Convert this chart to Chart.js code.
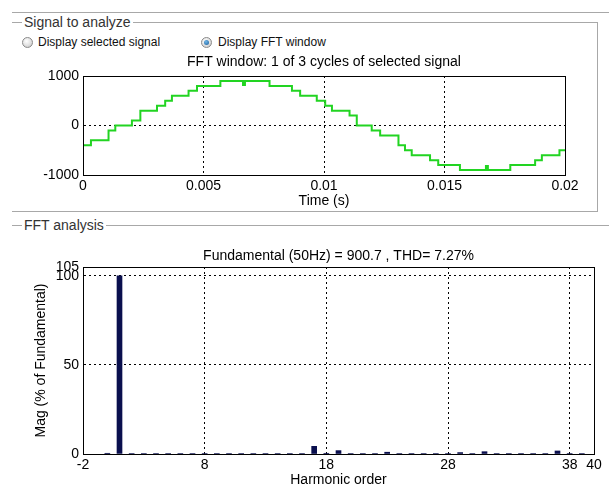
<!DOCTYPE html>
<html>
<head>
<meta charset="utf-8">
<script src="https://cdn.jsdelivr.net/npm/chart.js@4"></script>
<style>
  html, body { margin: 0; padding: 0; background: #fff; }
  body { width: 609px; height: 486px; position: relative; overflow: hidden;
         font-family: "Liberation Sans", Arial, sans-serif; color: #222; }
  .hline { position: absolute; height: 0; border-top: 1px solid #a8a8a8; }
  .panel { position: absolute; border: 1px solid #a8a8a8; border-left: none; }
  .legend { position: absolute; background: #fff; padding: 0 2px; font-size: 14px; line-height: 16px; color: #333; }
  .radio { position: absolute; font-size: 12px; line-height: 14px; color: #111; }
  .dot { position: absolute; width: 9px; height: 9px; border-radius: 50%; border: 1px solid #8a8a8a;
         background: radial-gradient(circle at 40% 35%, #fff 0%, #ddd 60%, #bbb 100%); }
  .dot.on::after { content: ""; position: absolute; left: 2px; top: 2px; width: 5px; height: 5px; border-radius: 50%;
         background: radial-gradient(circle at 40% 35%, #6fb6e8 0%, #1a5d9a 100%); }
  canvas { position: absolute; left: 0; }
</style>
</head>
<body>
<div class="hline" style="left:12px; top:12px; width:597px;"></div>
<div class="panel" style="left:12px; top:22px; width:585px; height:188px;"></div>
<div class="legend" style="left:22px; top:14px;">Signal to analyze</div>
<div class="dot" style="left:22px; top:37px;"></div>
<div class="radio" style="left:38px; top:35px;">Display selected signal</div>
<div class="dot on" style="left:201px; top:37px;"></div>
<div class="radio" style="left:218px; top:35px;">Display FFT window</div>
<div class="hline" style="left:12px; top:225px; width:597px;"></div>
<div class="legend" style="left:22px; top:217px;">FFT analysis</div>

<div style="position:absolute; left:0; top:50px; width:609px; height:162px;">
  <canvas id="waveChart"></canvas>
</div>
<div style="position:absolute; left:0; top:236px; width:609px; height:254px;">
  <canvas id="fftChart"></canvas>
</div>

<script>
/* FFT window signal (one cycle), step changes: time (s) -> level */
const stepTimes  = [0, 0, 0.00033, 0.00106, 0.00134, 0.00203, 0.00238, 0.00307, 0.00341, 0.00369, 0.00438, 0.00473,
                    0.0057, 0.00664, 0.00672, 0.00774, 0.00867, 0.00901, 0.0097, 0.01005, 0.01033, 0.01106, 0.01136,
                    0.01198, 0.01233, 0.01309, 0.01336, 0.01364, 0.0144, 0.01474, 0.01564, 0.01672, 0.0168,
                    0.01773, 0.01876, 0.01904, 0.01977, 0.02];
const stepValues = [0, -400, -300, -100, 0, 100, 300, 400, 500, 600, 700, 800,
                    900, 820, 900, 800, 700, 600, 500, 400, 300, 200, 0,
                    -100, -200, -400, -500, -600, -700, -800, -900, -820, -900,
                    -800, -700, -600, -500, -500];
const timeTicks = [0, 0.005, 0.01, 0.015, 0.02];
const ampTicks  = [-1000, 0, 1000];

/* FFT result: harmonic order -> magnitude (% of fundamental) */
const harmonicOrders = [0, 1, 2, 3, 4, 5, 6, 7, 8, 9, 10, 11, 12, 13, 14, 15, 16, 17, 18, 19,
                        20, 21, 22, 23, 24, 25, 26, 27, 28, 29, 30, 31, 32, 33, 34, 35, 36, 37, 38, 39];
const harmonicMag    = [0.4, 100, 0.3, 0.3, 0.3, 0.3, 0.3, 0.3, 0.3, 0.3, 0.3, 0.3, 0.3, 0.3, 0.3, 0.3, 0.3, 4.3, 0.4, 1.9,
                        0.3, 0.3, 0.3, 1.0, 0.3, 0.3, 0.3, 0.3, 0.3, 0.8, 0.3, 1.3, 0.3, 0.3, 0.3, 0.3, 0.3, 1.7, 0.3, 0.3];
const harmonicTicks = [-2, 8, 18, 28, 38, 40];
const magTicks      = [0, 50, 100, 105];

Chart.defaults.font.family = '"Liberation Sans", Arial, sans-serif';
Chart.defaults.font.size = 14;
Chart.defaults.color = '#000';

/* solid frame round the plot area */
const frameBox = {
    id: 'frameBox',
    afterDatasetsDraw(chart) {
        const a = chart.chartArea, c = chart.ctx;
        c.save();
        c.strokeStyle = '#000';
        c.lineWidth = 1;
        c.strokeRect(Math.round(a.left) + 0.5, Math.round(a.top) + 0.5,
                     Math.round(a.right - a.left), Math.round(a.bottom - a.top));
        c.restore();
    }
};

function fixedTicks(list) {
    return scale => { scale.ticks = list.map(v => ({ value: v })); };
}
const plain = v => String(+(+v).toFixed(4));

const dotted = { color: '#000', lineWidth: 1, drawTicks: false };
const edge = { display: true, color: '#000', width: 1, dash: [2, 3] };

// empty top axis that only carries the plot title, centred over the plot area
function titleAxis(min, max, text, height, padTop) {
    return {
        type: 'linear', position: 'top', min: min, max: max,
        ticks: { display: false },
        grid: { display: false, drawTicks: false },
        border: { display: false },
        afterFit: s => { s.height = height; },
        title: { display: true, text: text, padding: { top: padTop, bottom: 0 } }
    };
}

new Chart(document.getElementById('waveChart'), {
    type: 'line',
    data: {
        datasets: [{
            data: stepTimes.map((t, i) => ({ x: t, y: stepValues[i] })),
            borderColor: '#22d422',
            borderWidth: 2,
            pointRadius: 0,
            stepped: true,
            fill: false
        }]
    },
    options: {
        animation: false,
        responsive: true,
        maintainAspectRatio: false,
        layout: { padding: { left: 0, right: 44, top: 0, bottom: 0 } },
        plugins: {
            legend: { display: false },
            tooltip: { enabled: false }
        },
        scales: {
            x: {
                type: 'linear', min: 0, max: 0.02,
                afterBuildTicks: fixedTicks(timeTicks),
                afterFit: s => { s.height = 37; },
                grid: dotted, border: edge,
                ticks: { padding: 3, maxRotation: 0, autoSkip: false, callback: plain },
                title: { display: true, text: 'Time (s)', padding: { top: 0, bottom: 2.6 } }
            },
            top: titleAxis(0, 0.02, 'FFT window: 1 of 3 cycles of selected signal', 26, 3.6),
            y: {
                min: -1000, max: 1000,
                afterBuildTicks: fixedTicks(ampTicks),
                afterFit: s => { s.width = 83; },
                grid: dotted, border: edge,
                ticks: { padding: 4, autoSkip: false, callback: plain }
            }
        }
    },
    plugins: [frameBox]
});

new Chart(document.getElementById('fftChart'), {
    type: 'bar',
    data: {
        datasets: [{
            data: harmonicOrders.map((h, i) => ({ x: h, y: harmonicMag[i] })),
            backgroundColor: '#0a0f4e',
            borderWidth: 0,
            barThickness: 5
        }]
    },
    options: {
        animation: false,
        responsive: true,
        maintainAspectRatio: false,
        layout: { padding: { left: 0, right: 15, top: 0, bottom: 0 } },
        plugins: {
            legend: { display: false },
            tooltip: { enabled: false }
        },
        scales: {
            x: {
                type: 'linear', min: -2, max: 40, offset: false,
                afterBuildTicks: fixedTicks(harmonicTicks),
                afterFit: s => { s.height = 36; },
                grid: Object.assign({ offset: false }, dotted), border: edge,
                ticks: { padding: 3, maxRotation: 0, autoSkip: false, callback: plain },
                title: { display: true, text: 'Harmonic order', padding: { top: 0, bottom: 1.1 } }
            },
            top: titleAxis(-2, 40, 'Fundamental (50Hz) = 900.7 , THD= 7.27%', 31, 11.6),
            y: {
                min: 0, max: 105,
                afterBuildTicks: fixedTicks(magTicks),
                afterFit: s => { s.width = 83; },
                grid: dotted, border: edge,
                ticks: { padding: 4, autoSkip: false, callback: plain },
                title: { display: true, text: 'Mag (% of Fundamental)', padding: { top: 32.6, bottom: 0 } }
            }
        }
    },
    plugins: [frameBox]
});
</script>
</body>
</html>
